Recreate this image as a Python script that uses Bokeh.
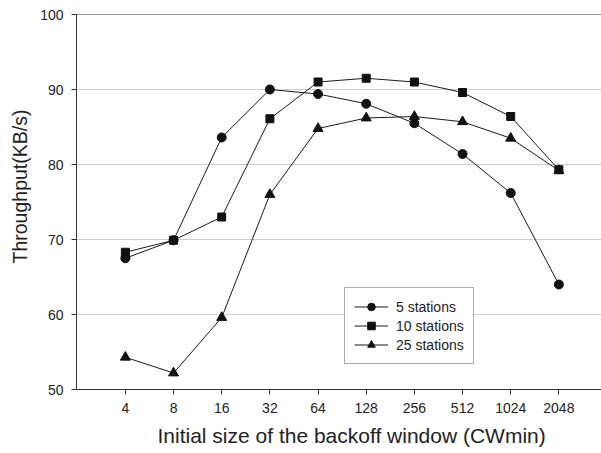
import math
from bokeh.plotting import figure
from bokeh.models import (Range1d, FixedTicker, PrintfTickFormatter, Legend,
                          LegendItem, Span, Title)
from bokeh.embed import file_html
from bokeh.resources import INLINE

# ---- data ----
cw_min = [4, 8, 16, 32, 64, 128, 256, 512, 1024, 2048]
stations_5 = [67.5, 69.9, 83.6, 90.0, 89.4, 88.1, 85.5, 81.4, 76.2, 64.0]
stations_10 = [68.3, 69.9, 73.0, 86.1, 91.0, 91.5, 91.0, 89.6, 86.4, 79.3]
stations_25 = [54.3, 52.2, 59.6, 76.0, 84.8, 86.2, 86.4, 85.7, 83.5, 79.2]
series_names = ["5 stations", "10 stations", "25 stations"]
y_ticks = [50, 60, 70, 80, 90, 100]
x_title = "Initial size of the backoff window (CWmin)"
y_title = "Throughput(KB/s)"

FONT = "Liberation Sans"
TXT = "#222222"

y_range = Range1d(50, 100)
p = figure(width=601, height=453, x_axis_type="log",
           x_range=Range1d(2 ** 0.985, 2 ** 11.885), y_range=y_range,
           output_backend="svg", toolbar_location=None,
           min_border_left=68, min_border_right=0,
           min_border_top=14, min_border_bottom=64)
p.outline_line_color = None
p.background_fill_color = "white"
p.border_fill_color = "white"

# axes
xa = p.xaxis[0]
xa.ticker = FixedTicker(ticks=cw_min)
xa.formatter = PrintfTickFormatter(format="%d")
ya = p.yaxis[0]
ya.ticker = FixedTicker(ticks=y_ticks)
for ax in (xa, ya):
    ax.axis_line_color = "#333333"
    ax.axis_line_width = 1
    ax.major_tick_line_color = "#333333"
    ax.major_tick_out = 5
    ax.major_tick_in = 0
    ax.minor_tick_line_color = None
    ax.major_label_text_font = FONT
    ax.major_label_text_font_size = "14px"
    ax.major_label_text_color = TXT
    ax.major_label_standoff = 8

p.xgrid.visible = False
p.ygrid.ticker = FixedTicker(ticks=y_ticks)
p.ygrid.grid_line_color = "#cdcdd4"
p.ygrid.grid_line_width = 1

# top border line
p.add_layout(Span(location=y_range.end, dimension="width",
                  line_color="#333333", line_width=1))

# series
markers = ["circle", "square", "triangle"]
sizes = [9, 8, 10]
items = []
for name, vals, mk, sz in zip(series_names, [stations_5, stations_10, stations_25], markers, sizes):
    lr = p.line(cw_min, vals, line_color="#1a1a1a", line_width=1)
    sr = p.scatter(cw_min, vals, marker=mk, size=sz, fill_color="#111111",
                   line_color="#111111")
    items.append(LegendItem(label=name, renderers=[lr, sr]))

legend = Legend(items=items, location=(268, 25), border_line_color="#555555",
                border_line_width=1, background_fill_color="white",
                background_fill_alpha=1, padding=9, spacing=0, margin=0,
                glyph_width=34, glyph_height=19, label_height=19,
                label_standoff=8, label_text_font=FONT,
                label_text_font_size="14px", label_text_color=TXT)
p.add_layout(legend)

# axis titles
xt = Title(text=x_title, align="left", offset=81, standoff=13,
           text_font=FONT, text_font_size="21px",
           text_font_style="normal", text_color=TXT)
p.add_layout(xt, "below")
yt = Title(text=y_title, align="left", offset=126, standoff=13,
           text_font=FONT, text_font_size="19.5px", text_font_style="normal",
           text_color=TXT)
p.add_layout(yt, "left")

open("out.html", "w").write(file_html(p, INLINE))
